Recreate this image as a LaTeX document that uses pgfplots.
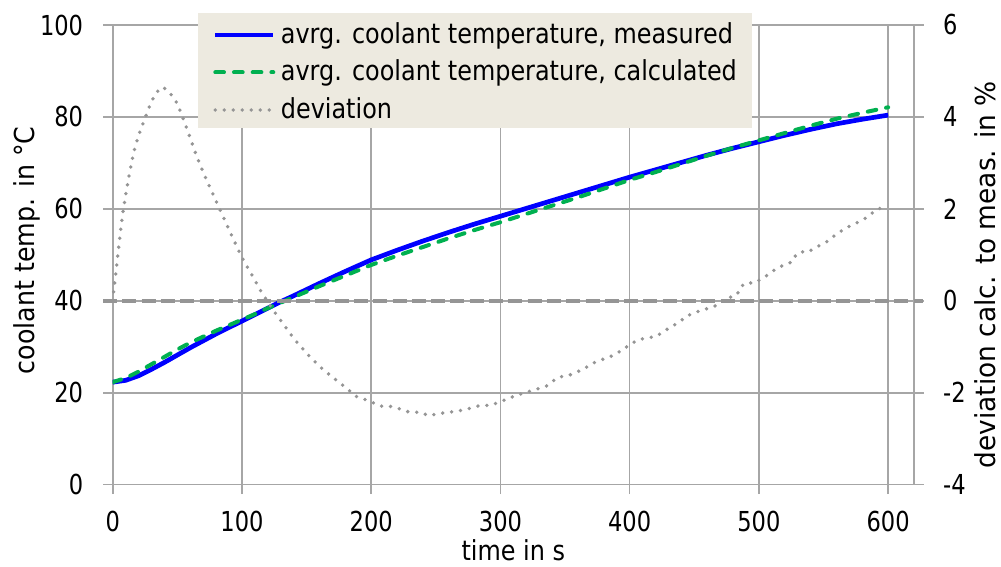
\documentclass[border=0pt]{standalone}
\usepackage{pgfplots}
\usepackage{pgfplotstable}
\pgfplotsset{compat=1.18}
\usepackage{fontspec}
\setmainfont{DejaVu Sans}[FakeStretch=0.87]
\newfontfamily\digitfont{DejaVu Sans}[FakeStretch=0.82]
\newfontfamily\vlabelfont{DejaVu Sans}[FakeStretch=0.92]
\newfontfamily\vlabelfontb{DejaVu Sans}[FakeStretch=0.96]
\definecolor{meas}{HTML}{0000FF}
\definecolor{calc}{HTML}{00B050}
\definecolor{devc}{HTML}{959595}
\definecolor{gridc}{HTML}{A6A6A6}
\definecolor{legbg}{HTML}{EDEAE0}
\newcommand{\fs}{\fontsize{27.5pt}{33pt}\selectfont}
\newcommand{\lstrut}{\rule[-5pt]{0pt}{27pt}}

\pgfplotstableread{
t M
0 22.3
10 22.7
20 23.7
30 25.1
40 26.6
50 28.2
60 29.8
70 31.3
80 32.8
90 34.2
100 35.6
110 37.0
120 38.4
130 39.8
140 41.1
160 43.8
180 46.4
200 48.9
220 51.0
240 53.0
260 54.9
280 56.7
300 58.4
320 60.1
340 61.8
360 63.5
380 65.2
400 66.9
420 68.5
440 70.1
460 71.7
480 73.2
500 74.6
520 76.0
540 77.3
560 78.5
580 79.5
600 80.4
}\measured

\pgfplotstableread{
t C
0 22.3
10 23.2
20 24.6
30 26.2
40 27.8
50 29.4
60 30.9
70 32.2
80 33.5
90 34.7
100 35.9
110 37.1
120 38.4
130 39.6
140 40.8
160 43.2
180 45.5
200 47.8
220 49.8
240 51.7
260 53.6
280 55.4
300 57.1
320 58.9
340 60.7
360 62.5
380 64.4
400 66.3
420 68.0
440 69.8
460 71.6
480 73.3
500 74.9
520 76.5
540 78.1
560 79.6
580 80.9
600 82.1
}\calculated

\pgfplotstableread{
t d
0 0.0
2 0.5
4 1.0
6 1.5
8 1.95
12 2.63
16 3.2
20 3.6
24 3.9
28 4.2
32 4.45
36 4.6
39 4.65
43 4.55
48 4.4
52 4.15
58 3.7
65 3.14
70 2.8
75 2.48
83 1.98
90 1.55
96 1.18
101 0.89
108 0.55
114 0.24
124 -0.2
132 -0.5
140 -0.82
145 -0.98
153 -1.23
161 -1.45
170 -1.66
180 -1.88
189 -2.09
198 -2.17
207 -2.29
217 -2.30
228 -2.41
239 -2.43
244 -2.50
253 -2.45
264 -2.41
274 -2.36
282 -2.29
293 -2.27
302 -2.17
313 -2.05
326 -1.94
336 -1.85
344 -1.67
354 -1.61
364 -1.49
372 -1.35
388 -1.18
406 -0.85
421 -0.77
426 -0.67
439 -0.45
444 -0.33
455 -0.21
465 -0.13
475 0.05
483 0.13
486 0.31
491 0.40
496 0.38
504 0.51
513 0.69
518 0.76
526 0.85
528 0.97
532 1.07
537 1.05
546 1.19
554 1.31
559 1.43
567 1.58
576 1.70
584 1.82
591 1.99
600 2.06
}\deviation

\pgfplotsset{common/.style={
  width=801.3pt, height=459.7pt, scale only axis,
  at={(112.7pt,82.3pt)}, anchor=south west,
  xmin=0, xmax=620,
  font=\fs,
  tick align=outside, major tick length=9.5pt,
  /pgf/number format/assume math mode=true,
  ticklabel style={font=\digitfont\fs, inner sep=0pt},
  tick style={gridc, line width=1.6pt},
  axis line style={gridc, line width=1.6pt},
}}

\begin{document}
\begin{tikzpicture}
\begin{axis}[common,
  ymin=0, ymax=100,
  xtick={0,100,...,600}, ytick={0,20,...,100},
  xtick pos=bottom, ytick pos=left,
  grid=major, grid style={gridc, line width=1.6pt},
  xticklabel style={anchor=base, yshift=-37.8pt},
  yticklabel style={anchor=east, xshift=-19.9pt},
  xlabel={time in s},
  ylabel={\vlabelfont coolant temp. in °C},
  xlabel style={at={(axis description cs:0.5,-0.164)}, anchor=base, inner sep=0pt},
  ylabel style={at={(axis description cs:-0.0982,0.51)}, anchor=base, inner sep=0pt},
]
\addplot[meas, line width=4.7pt, line join=round] table[x=t,y=M] {\measured};
\addplot[calc, line width=4pt, line cap=round, dash pattern=on 8.7pt off 10pt] table[x=t,y=C] {\calculated};
\end{axis}
\begin{axis}[common,
  ymin=-4, ymax=6, ytick={-4,-2,...,6},
  hide x axis, axis y line*=right, clip=false,
  yticklabel style={anchor=west, xshift=19.5pt},
  ylabel={\vlabelfontb deviation calc. to meas. in \%},
  ylabel style={at={(axis description cs:1.1020,0.457)}, anchor=base, inner sep=0pt},
  legend cell align=left,
  legend image code/.code={\draw[#1] (0pt,8.4pt) -- (58pt,8.4pt);},
  legend style={at={(axis description cs:0.1065,1.0268)}, anchor=north west,
    fill=legbg, draw=none, inner xsep=14.8pt, inner ysep=8.5pt,
    row sep=14pt, column sep=5.3pt, font=\fs,
    nodes={inner sep=0pt, anchor=base west}},
]
\addlegendimage{meas, line width=4.5pt}
\addlegendentry{\lstrut avrg. coolant temperature, measured}
\addlegendimage{calc, line width=4pt, line cap=round, dash pattern=on 8.7pt off 10pt}
\addlegendentry{\lstrut avrg. coolant temperature, calculated}
\addplot[devc, line width=3.8pt, line cap=round, dash pattern=on 0pt off 9pt] table[x=t,y=d] {\deviation};
\addlegendentry{\lstrut deviation}
\addplot[devc, line width=4pt, dash pattern=on 14pt off 5.3pt, forget plot] coordinates {(-7.5,0) (627,0)};
\end{axis}
\pgfresetboundingbox
\path[use as bounding box] (0,0) rectangle (1001pt,567pt);
\end{tikzpicture}
\end{document}
